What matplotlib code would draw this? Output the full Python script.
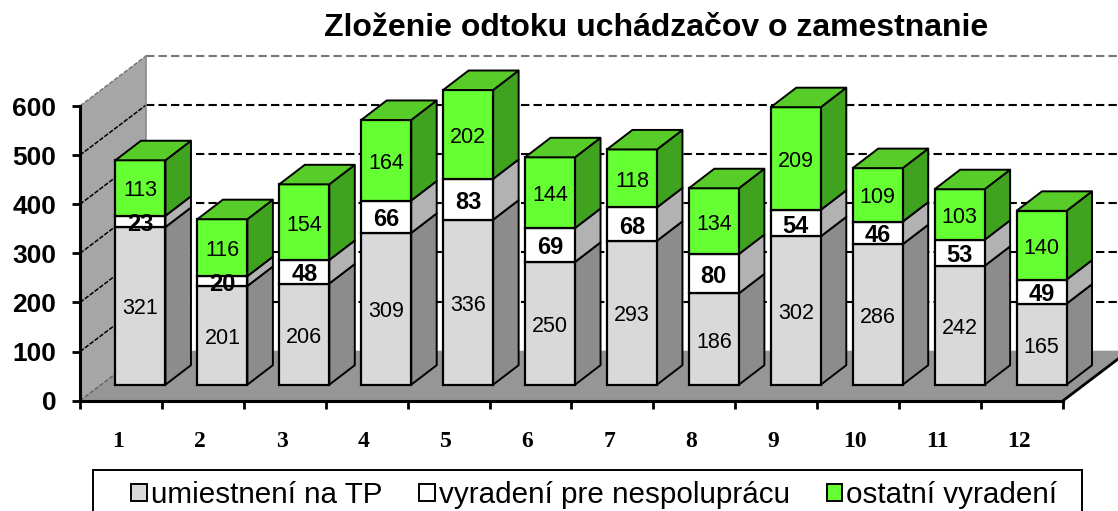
import matplotlib
matplotlib.use("Agg")
import matplotlib.pyplot as plt
from matplotlib.patches import Polygon, Patch, Rectangle
from matplotlib.transforms import ScaledTranslation

title = "Zloženie odtoku uchádzačov o zamestnanie"
months = ["1", "2", "3", "4", "5", "6", "7", "8", "9", "10", "11", "12"]
umiestneni = [321, 201, 206, 309, 336, 250, 293, 186, 302, 286, 242, 165]
nespolupraca = [23, 20, 48, 66, 83, 69, 68, 80, 54, 46, 53, 49]
ostatne = [113, 116, 154, 164, 202, 144, 118, 134, 209, 109, 103, 140]
series_names = ["umiestnení na TP", "vyradení pre nespoluprácu", "ostatní vyradení"]
y_ticks = [0, 100, 200, 300, 400, 500, 600]
y_max = 600

W, H = 1118, 511
fig = plt.figure(figsize=(W / 100, H / 100), dpi=100, facecolor="white")
ax = fig.add_axes([80 / W, 1 - 400.7 / H, (1063 - 80) / W, (400.7 - 106) / H])
ax.set_xlim(0.5, 12.5)
ax.set_ylim(0, y_max)
ax.patch.set_alpha(0)

ux = (1063 - 80) / 12      # px per category
uy = (400.7 - 106) / y_max  # px per value unit
wall_dx, wall_dy = 66 / ux, 50 / uy
front_dx, front_dy = 19.5 / ux, 16 / uy
side_dx, side_dy = 25.5 / ux, 19.5 / uy
bar_w = 50 / ux
label_drop = 3 / uy
xl, xr = 0.5, 12.5

FRONTS = ["#D9D9D9", "#FFFFFF", "#66FF33"]
SIDES = ["#8C8C8C", "#B2B2B2", "#40A320"]
TOPS = ["#B0B0B0", "#C8C8C8", "#58CC28"]

# side wall and floor
ax.add_patch(Polygon([(xl, 0), (xl + wall_dx, wall_dy), (xl + wall_dx, y_max + wall_dy), (xl, y_max)],
                     fc="#A6A6A6", ec="none", clip_on=False, zorder=1))
ax.add_patch(Polygon([(xl, 0), (xr, 0), (xr + wall_dx, wall_dy), (xl + wall_dx, wall_dy)],
                     fc="#969696", ec="none", clip_on=False, zorder=1.5))

# gridlines
for v in y_ticks:
    c = "#777777" if v == y_max else "black"
    if v > 0:
        ax.plot([xl + wall_dx, xr + wall_dx], [v + wall_dy] * 2, color=c, lw=1.5,
                ls=(0, (4, 2)), clip_on=False, zorder=2)
    ax.plot([xl, xl + wall_dx], [v, v + wall_dy], color=c if v else "#666666", lw=1.1,
            ls=(0, (3, 1)), clip_on=False, zorder=2)
ax.plot([xl + wall_dx] * 2, [wall_dy, y_max + wall_dy], color="#8A8A8A", lw=1.2, clip_on=False, zorder=2)
ax.plot([xr, xr + wall_dx], [0, wall_dy], color="black", lw=2, clip_on=False, zorder=3)

# bars: the stack is cut off at the axis maximum, as in the reference
for i, m in enumerate(months):
    x0 = i + 1 + front_dx - bar_w / 2
    x1 = x0 + bar_w
    base = 0
    for s, vals in enumerate([umiestneni, nespolupraca, ostatne]):
        v = vals[i]
        top = min(base + v, y_max)
        b, t = base + front_dy, top + front_dy
        z = 4 + i * 0.1
        ax.add_patch(Polygon([(x1, b), (x1 + side_dx, b + side_dy), (x1 + side_dx, t + side_dy), (x1, t)],
                             fc=SIDES[s], ec="black", lw=1.4, clip_on=False, zorder=z, joinstyle="round"))
        ax.add_patch(Polygon([(x0, b), (x1, b), (x1, t), (x0, t)],
                             fc=FRONTS[s], ec="black", lw=1.6, clip_on=False, zorder=z + 0.01))
        if s == 2:
            ax.add_patch(Polygon([(x0, t), (x1, t), (x1 + side_dx, t + side_dy), (x0 + side_dx, t + side_dy)],
                                 fc=TOPS[s], ec="black", lw=1.4, clip_on=False, zorder=z + 0.01))
        ax.text((x0 + x1) / 2, (b + t) / 2 - label_drop, str(v), ha="center", va="center",
                fontsize=17 if s == 1 else 15.5, family="Liberation Sans",
                fontweight="bold" if s == 1 else "normal",
                color="black", zorder=z + 0.02, clip_on=False)
        base = top

# axes
for sp in ["top", "right"]:
    ax.spines[sp].set_visible(False)
for sp in ["left", "bottom"]:
    ax.spines[sp].set_linewidth(2.2)
    ax.spines[sp].set_zorder(3.5)
ax.set_yticks(y_ticks)
ax.set_yticklabels([str(v) for v in y_ticks], fontsize=19, fontweight="bold", family="Liberation Sans")
ax.tick_params(axis="y", length=6, width=2, pad=11)
ax.set_xticks([0.5 + k for k in range(13)])
ax.set_xticklabels([])
ax.tick_params(axis="x", which="major", length=6, width=2)
ax.set_xticks(range(1, 13), minor=True)
ax.set_xticklabels(months, minor=True, fontsize=17, fontweight="bold", family="Liberation Serif")
ax.tick_params(axis="x", which="minor", length=0, pad=21.5)
shift = ScaledTranslation(-3 / 100, 0, fig.dpi_scale_trans)
for lab in ax.get_xticklabels(minor=True):
    lab.set_transform(lab.get_transform() + shift)

fig.text(656 / W, 1 - 28.5 / H, title, ha="center", va="center", fontsize=23, fontweight="bold",
         family="Liberation Sans")

fig.add_artist(Rectangle((92.7 / W, -0.02), (1081.6 - 92.7) / W, 1 - 470 / H + 0.02, transform=fig.transFigure,
                         fc="white", ec="black", lw=1.4))
handles = [Patch(fc=FRONTS[k], ec="black", lw=1.4) for k in range(3)]
leg = fig.legend(handles, series_names, ncol=3, loc="center left", bbox_to_anchor=(131 / W, 1 - 495 / H),
                 prop={"family": "Liberation Sans", "size": 21.3}, frameon=False,
                 handlelength=0.54, handleheight=0.54, handletextpad=0.12,
                 columnspacing=1.25, borderpad=0, borderaxespad=0)

fig.savefig("out.png", dpi=100)
